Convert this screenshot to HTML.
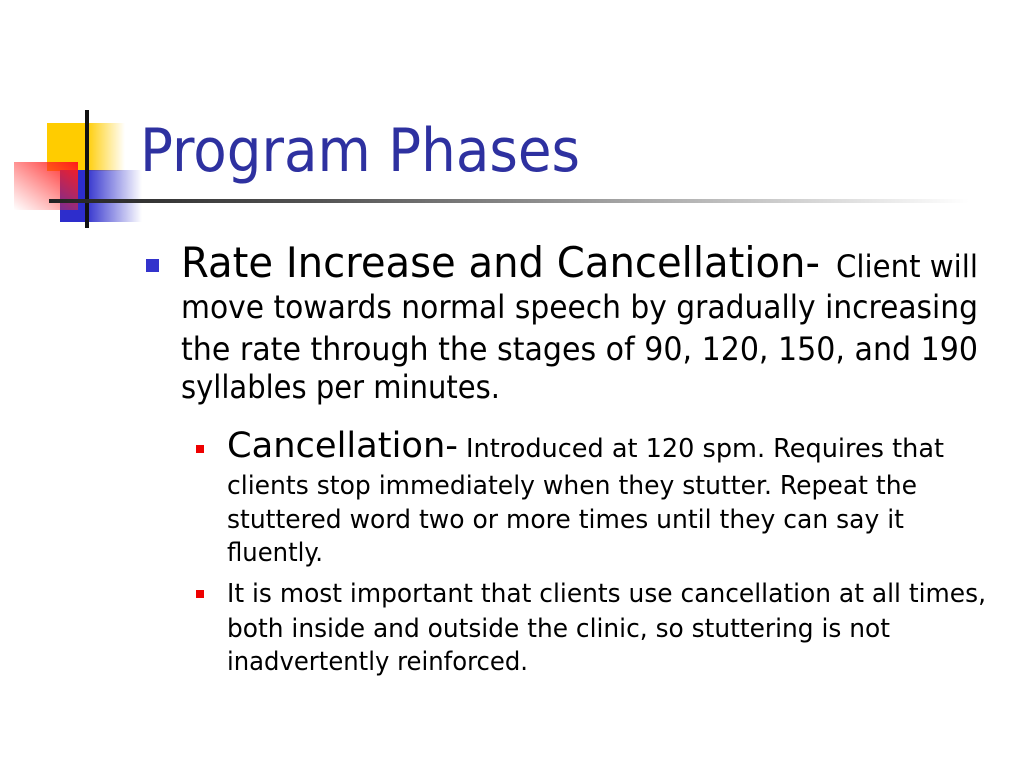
<!DOCTYPE html>
<html><head><meta charset="utf-8"><style>
body{margin:0;background:#fff;}
svg{display:block}
text{font-family:"DejaVu Sans","Liberation Sans",sans-serif;fill:#000}
</style></head><body>
<svg width="1024" height="768" viewBox="0 0 1024 768">
<defs>
<linearGradient id="gy" x1="0" x2="1"><stop offset="0.5" stop-color="#ffcc00"/><stop offset="1" stop-color="#ffcc00" stop-opacity="0"/></linearGradient>
<linearGradient id="gr" x1="1" y1="0" x2="0" y2="1"><stop offset="0" stop-color="#ff1a1a"/><stop offset="1" stop-color="#ff3333" stop-opacity="0"/></linearGradient>
<linearGradient id="gb" x1="0" x2="1"><stop offset="0.3" stop-color="#2d2dcc"/><stop offset="1" stop-color="#2d2dcc" stop-opacity="0"/></linearGradient>
<linearGradient id="gl" x1="0" x2="1"><stop offset="0" stop-color="#222"/><stop offset="0.3" stop-color="#555"/><stop offset="1" stop-color="#fff"/></linearGradient>
</defs>
<g>
<rect x="47" y="123" width="78" height="48" fill="url(#gy)"/>
<rect x="60" y="170" width="82" height="52" fill="url(#gb)"/>
<rect x="14" y="162" width="64" height="48" fill="url(#gr)"/>
<rect x="85" y="110" width="4" height="118" fill="#111"/>
</g>
<rect x="49" y="199" width="920" height="4" fill="url(#gl)"/>
<text x="140" y="171" font-size="60" textLength="440" lengthAdjust="spacingAndGlyphs" style="fill:#2e31a0">Program Phases</text>
<rect x="146" y="259" width="13" height="13" fill="#3333cc"/>
<text x="181" y="277" font-size="42" textLength="639" lengthAdjust="spacingAndGlyphs">Rate Increase and Cancellation-</text>
<text x="836" y="277" font-size="31" textLength="142" lengthAdjust="spacingAndGlyphs">Client will</text>
<text x="181" y="318" font-size="32" textLength="797" lengthAdjust="spacingAndGlyphs">move towards normal speech by gradually increasing</text>
<text x="181" y="360" font-size="32" textLength="797" lengthAdjust="spacingAndGlyphs">the rate through the stages of 90, 120, 150, and 190</text>
<text x="181" y="398" font-size="32" textLength="319" lengthAdjust="spacingAndGlyphs">syllables per minutes.</text>
<rect x="196" y="445" width="8" height="8" fill="#ee0000"/>
<text x="227" y="457" font-size="35" textLength="231" lengthAdjust="spacingAndGlyphs">Cancellation-</text>
<text x="466" y="457" font-size="26" textLength="478" lengthAdjust="spacingAndGlyphs">Introduced at 120 spm.  Requires that</text>
<text x="227" y="494" font-size="26" textLength="690" lengthAdjust="spacingAndGlyphs">clients stop immediately when they stutter.  Repeat the</text>
<text x="227" y="528" font-size="26" textLength="677" lengthAdjust="spacingAndGlyphs">stuttered word two or more times until they can say it</text>
<text x="227" y="561" font-size="26" textLength="96" lengthAdjust="spacingAndGlyphs">fluently.</text>
<rect x="196" y="590" width="8" height="8" fill="#ee0000"/>
<text x="227" y="602" font-size="26" textLength="759" lengthAdjust="spacingAndGlyphs">It is most important that clients use cancellation at all times,</text>
<text x="227" y="637" font-size="26" textLength="663" lengthAdjust="spacingAndGlyphs">both inside and outside the clinic, so stuttering is not</text>
<text x="227" y="670" font-size="26" textLength="301" lengthAdjust="spacingAndGlyphs">inadvertently reinforced.</text>
</svg>
</body></html>
